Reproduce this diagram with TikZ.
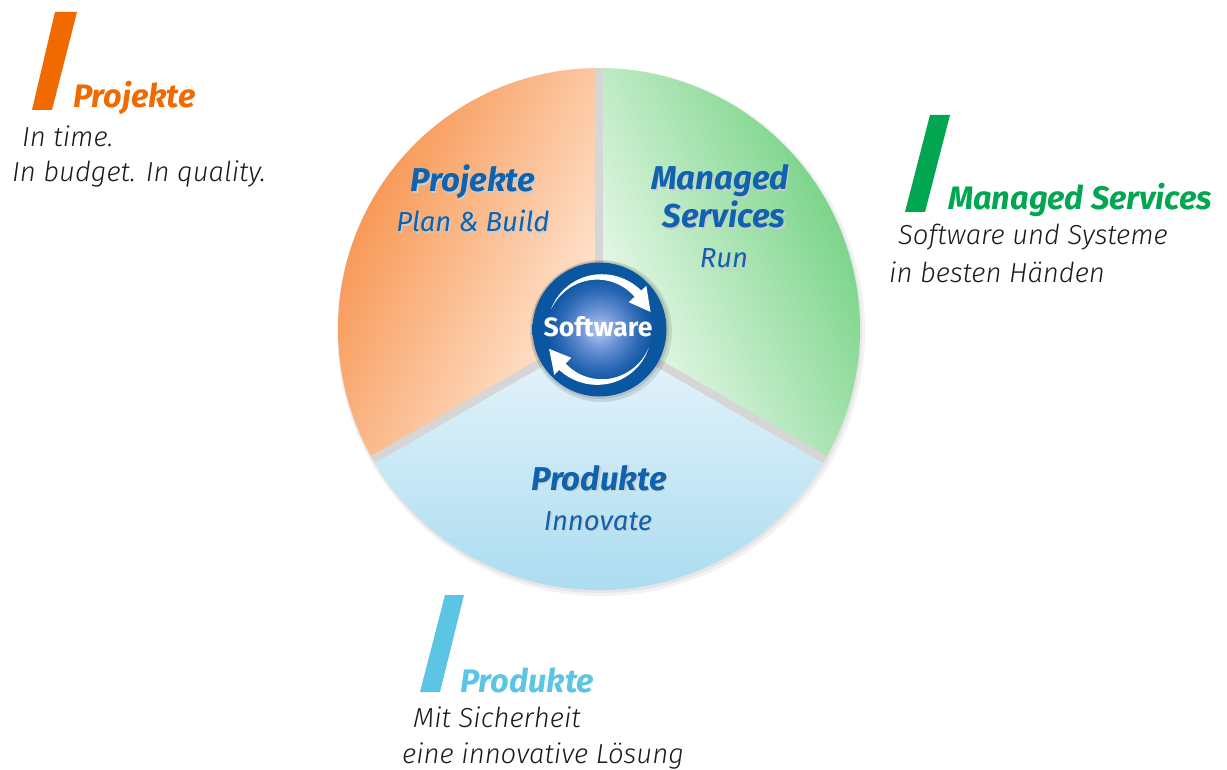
\documentclass[tikz,border=0pt]{standalone}
\usepackage{fontspec}
\setmainfont{Fira Sans}
\newfontfamily\lightfont{Fira Sans Light}
\definecolor{orangebar}{HTML}{F06A00}
\definecolor{greenbar}{HTML}{00A650}
\definecolor{bluebar}{HTML}{5BC5E3}
\definecolor{bodytext}{HTML}{1A1A1A}
\definecolor{inblue}{HTML}{0E62AE}
\definecolor{orA}{HTML}{F78E46}
\definecolor{orB}{HTML}{FFEDDD}
\definecolor{grA}{HTML}{5FCB71}
\definecolor{grB}{HTML}{F3FCF3}
\definecolor{blA}{HTML}{EAF5FC}
\definecolor{blB}{HTML}{A2D9EE}
\definecolor{gapgrey}{HTML}{D6D6D6}
\definecolor{ballc1}{HTML}{B8CBF0}
\definecolor{ballc2}{HTML}{6E95D7}
\definecolor{ballc3}{HTML}{2A67B4}
\definecolor{ballc4}{HTML}{0B56A0}
\pgfdeclareradialshading{swball}{\pgfpoint{0bp}{0bp}}{color(0bp)=(ballc1); color(7bp)=(ballc2); color(15bp)=(ballc3); color(20bp)=(ballc4); color(25bp)=(ballc4); color(50bp)=(ballc4)}
\tikzset{
  body/.style={anchor=base west, inner sep=0pt, text=bodytext, font=\lightfont\fontsize{27.5}{30}\selectfont\itshape},
  outertitle/.style={anchor=base west, inner sep=0pt, font=\fontsize{32.5}{34}\selectfont\bfseries\itshape},
  intitle/.style={anchor=base, inner sep=0pt, text=inblue, font=\fontsize{33}{35}\selectfont\bfseries\itshape},
  insub/.style={anchor=base, inner sep=0pt, text=inblue, font=\fontsize{27.5}{30}\selectfont\itshape},
  gapline/.style={draw=gapgrey, line width=8pt},
  swarrow/.style={fill=white, draw=none},
}
\newcommand\shadowed[4]{%
  \node[#3, text=black!20, xshift=1.3pt, yshift=-1.3pt] (#1sh) at (#2) {#4};
  \node[#3] (#1) at (#2) {#4};}
\begin{document}
\begin{tikzpicture}[x=1pt,y=1pt]
\useasboundingbox (0,-770) rectangle (1227,0);
\fill[white] (0,-770) rectangle (1227,0);

% ---------- pie ----------
\coordinate (C) at (599,-329);
\fill[black, opacity=0.05] (601,-332) circle (264);
\fill[black, opacity=0.05] (600,-331) circle (262);

\shade[top color=orA, bottom color=orB, shading angle=65]
  (C) -- ++(90:261) arc[start angle=90, end angle=210, radius=261] -- cycle;
\shade[top color=grA, bottom color=grB, shading angle=-65]
  (C) -- ++(-30:261) arc[start angle=-30, end angle=90, radius=261] -- cycle;
\shade[top color=blA, bottom color=blB]
  (C) -- ++(210:261) arc[start angle=210, end angle=330, radius=261] -- cycle;

\draw[gapline] (C) -- ++(90:261);
\draw[gapline] (C) -- ++(210:261);
\draw[gapline] (C) -- ++(-30:261);

% ---------- slice texts ----------
\shadowed{tProj}{473,-192}{intitle}{Projekte}
\shadowed{sProj}{473,-232}{insub}{Plan \& Build}
\shadowed{tMan}{720,-190}{intitle}{Managed}
\shadowed{tServ}{724,-228}{intitle}{Services}
\shadowed{sRun}{724,-268}{insub}{Run}
\shadowed{tProd}{599,-490}{intitle}{Produkte}
\shadowed{sInno}{598,-530}{insub}{Innovate}

% ---------- software ball ----------
\coordinate (S) at (599.5,-329.5);
\fill[black, opacity=0.10] (601,-331) circle (71);
\fill[black, opacity=0.10] (600,-330) circle (69);
\shade[shading=swball] (S) circle (67);
\begin{scope}[shift={(599.5,-329.5)}]
  \fill[swarrow] plot[domain=158:43, samples=40] (\x:{52.5+4.6*(158-\x)/115})
    -- (43:64) -- (19:54) -- (43:40)
    -- plot[domain=43:158, samples=40] (\x:{52.5-4.6*(158-\x)/115}) -- cycle;
\end{scope}
\begin{scope}[shift={(599.5,-329.5)}, rotate=182]
  \fill[swarrow] plot[domain=158:43, samples=40] (\x:{52.5+4.6*(158-\x)/115})
    -- (43:64) -- (19:54) -- (43:40)
    -- plot[domain=43:158, samples=40] (\x:{52.5-4.6*(158-\x)/115}) -- cycle;
\end{scope}
\node[anchor=base, inner sep=0pt, text=white, font=\fontsize{26.5}{28}\selectfont\bfseries] (sw) at (598,-336) {Software};

% ---------- outer labels ----------
\fill[orangebar] (55,-12) -- (77,-12) -- (52,-110) -- (32,-110) -- cycle;
\node[outertitle, text=orangebar] (oProj) at (73,-108) {Projekte};
\node[body] (oProj1) at (22,-147) {In time.};
\node[body] (oProj2) at (12,-182) {In budget. In quality.};

\fill[greenbar] (930,-115) -- (950,-115) -- (925,-212) -- (905,-212) -- cycle;
\node[outertitle, text=greenbar] (oMan) at (948,-210) {Managed Services};
\node[body] (oMan1) at (898,-245) {Software und Systeme};
\node[body] (oMan2) at (889,-283) {in besten Händen};

\fill[bluebar] (445,-595) -- (464,-595) -- (440,-692) -- (420,-692) -- cycle;
\node[outertitle, text=bluebar] (oProd) at (460,-692) {Produkte};
\node[body] (oProd1) at (413,-727) {Mit Sicherheit};
\node[body] (oProd2) at (402,-763) {eine innovative Lösung};
\end{tikzpicture}
\end{document}
